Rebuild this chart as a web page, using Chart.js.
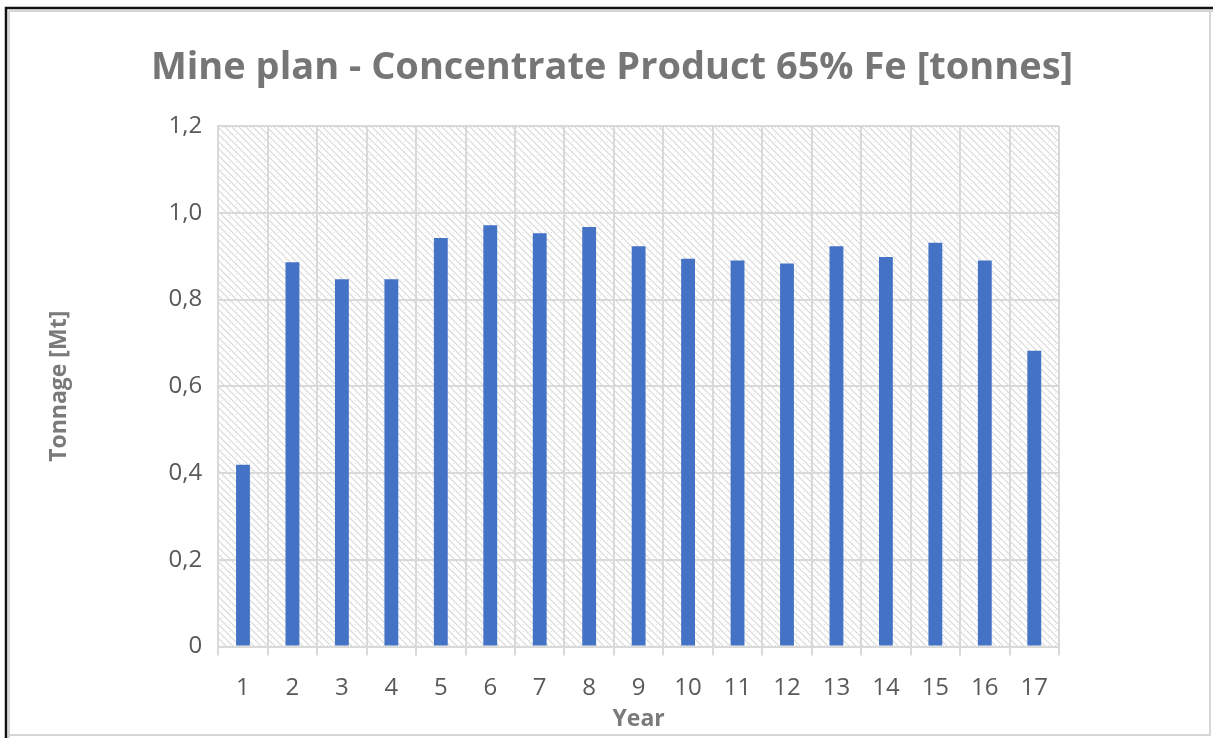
<!DOCTYPE html>
<html>
<head>
<meta charset="utf-8">
<script src="https://cdn.jsdelivr.net/npm/chart.js@4"></script>
<style>
  html, body { margin: 0; padding: 0; background: #fff; }
  #wrap { width: 1213px; height: 738px; position: relative; }
</style>
</head>
<body>
<div id="wrap"><canvas id="c" width="1213" height="738"></canvas></div>
<script>
const years = ['1','2','3','4','5','6','7','8','9','10','11','12','13','14','15','16','17'];
const tonnage = [0.419, 0.886, 0.847, 0.847, 0.942, 0.971, 0.953, 0.967, 0.923, 0.894, 0.890, 0.883, 0.923, 0.898, 0.931, 0.890, 0.682];
const yTickLabels = ['0', '0,2', '0,4', '0,6', '0,8', '1,0', '1,2'];
const chartTitle = 'Mine plan - Concentrate Product 65% Fe [tonnes]';
const xTitle = 'Year';
const yTitle = 'Tonnage [Mt]';

const FONT = '"Open Sans", Lato, sans-serif';

function makeHatch() {
  const s = 7;
  const p = document.createElement('canvas');
  p.width = s; p.height = s;
  const g = p.getContext('2d');
  g.fillStyle = '#ffffff';
  g.fillRect(0, 0, s, s);
  g.strokeStyle = '#d8d8d8';
  g.lineWidth = 1.2;
  g.beginPath();
  g.moveTo(-1, -1); g.lineTo(s + 1, s + 1);
  g.moveTo(-1, s - 1); g.lineTo(1, s + 1);
  g.moveTo(s - 1, -1); g.lineTo(s + 1, 1);
  g.stroke();
  g.fillStyle = '#e2e2e2';
  g.fillRect(5, 1, 1, 1);
  return p;
}

const bgPlugin = {
  id: 'bg',
  beforeDraw(chart) {
    const ctx = chart.ctx;
    const a = chart.chartArea;
    ctx.save();
    ctx.fillStyle = '#ffffff';
    ctx.fillRect(0, 0, chart.width, chart.height);
    ctx.fillStyle = ctx.createPattern(makeHatch(), 'repeat');
    ctx.fillRect(a.left, a.top, a.right - a.left, a.bottom - a.top);
    ctx.restore();
  },
  afterDraw(chart) {
    const ctx = chart.ctx;
    ctx.save();
    ctx.fillStyle = '#767676';
    ctx.font = 'bold 38px ' + FONT;
    ctx.textAlign = 'center';
    ctx.textBaseline = 'middle';
    ctx.fillText(chartTitle, 612, 68);
    ctx.strokeStyle = '#d6d6d6';
    ctx.lineWidth = 2;
    ctx.beginPath();
    ctx.moveTo(9, 11); ctx.lineTo(1213, 11);
    ctx.moveTo(9, 11); ctx.lineTo(9, 738);
    ctx.moveTo(1210, 11); ctx.lineTo(1210, 735);
    ctx.lineTo(9, 735);
    ctx.stroke();
    ctx.strokeStyle = '#111111';
    ctx.lineWidth = 2.5;
    ctx.beginPath();
    ctx.moveTo(6, 738); ctx.lineTo(6, 8); ctx.lineTo(1213, 8);
    ctx.stroke();
    ctx.restore();
  }
};

new Chart(document.getElementById('c'), {
  type: 'bar',
  data: {
    labels: years,
    datasets: [{
      data: tonnage,
      backgroundColor: '#4472C4',
      borderWidth: 0,
      barPercentage: 0.56,
      categoryPercentage: 0.5
    }]
  },
  plugins: [bgPlugin],
  options: {
    responsive: false,
    animation: false,
    devicePixelRatio: 1,
    layout: { padding: { top: 126, right: 154, bottom: 2, left: 20 } },
    plugins: {
      legend: { display: false },
      tooltip: { enabled: false },
      title: { display: false }
    },
    scales: {
      x: {
        grid: {
          color: '#d9d9d9',
          lineWidth: 2,
          offset: true,
          drawTicks: true,
          tickLength: 9
        },
        border: { color: '#d9d9d9', width: 2 },
        ticks: {
          color: '#595959',
          font: { family: FONT, size: 24, lineHeight: 1.2 },
          padding: 18,
          maxRotation: 0
        },
        title: {
          display: true,
          text: xTitle,
          color: '#7a7a7a',
          font: { family: FONT, size: 23, weight: 'bold', lineHeight: 1.2 },
          padding: { top: -15, bottom: 3 }
        }
      },
      y: {
        min: 0,
        max: 1.2,
        ticks: {
          stepSize: 0.2,
          color: '#595959',
          font: { family: FONT, size: 24, lineHeight: 1.2 },
          padding: 16,
          callback: (v, i) => yTickLabels[i]
        },
        grid: {
          color: '#d9d9d9',
          lineWidth: 2,
          drawTicks: false
        },
        border: { color: '#d9d9d9', width: 2 },
        title: {
          display: true,
          text: yTitle,
          color: '#7a7a7a',
          font: { family: FONT, size: 23, weight: 'bold', lineHeight: 1.2 },
          padding: { top: 26, bottom: 79 }
        }
      }
    }
  }
});
</script>
</body>
</html>
